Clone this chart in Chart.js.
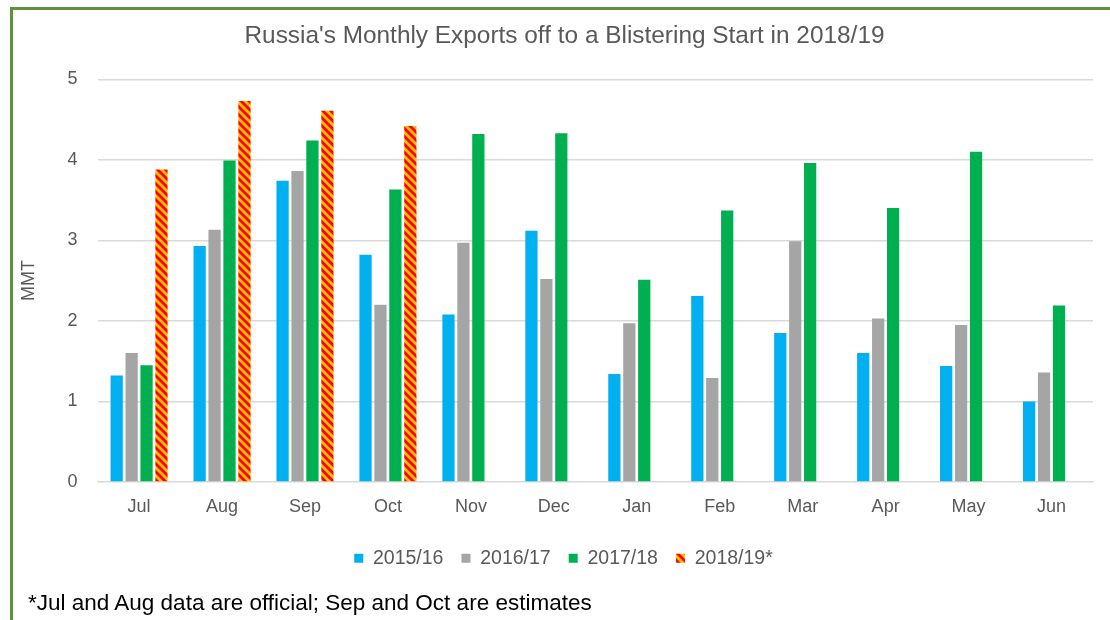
<!DOCTYPE html>
<html>
<head>
<meta charset="utf-8">
<script src="https://cdn.jsdelivr.net/npm/chart.js@4.4.0/dist/chart.umd.min.js"></script>
<style>
  body { margin: 0; background: #fff; }
  #wrap { position: relative; width: 1110px; height: 620px; overflow: hidden; }
  #frame { position: absolute; left: 10px; top: 7px; width: 1110px; height: 640px;
           border-top: 3px solid #5E9236; border-left: 3px solid #5E9236; box-sizing: border-box; }
  #note { position: absolute; left: 28px; top: 590px; font-family: Arial, "Liberation Sans", sans-serif;
          font-size: 22.5px; color: #000; }
  canvas { position: absolute; left: 0; top: 0; }
</style>
</head>
<body>
<div id="wrap">
  <canvas id="myChart" width="1110" height="620"></canvas>
  <div id="frame"></div>
  <div id="note">*Jul and Aug data are official; Sep and Oct are estimates</div>
</div>
<script>
// months of the marketing year
const months = ['Jul', 'Aug', 'Sep', 'Oct', 'Nov', 'Dec', 'Jan', 'Feb', 'Mar', 'Apr', 'May', 'Jun'];
const exports1516 = [1.32, 2.93, 3.74, 2.82, 2.08, 3.12, 1.34, 2.31, 1.85, 1.60, 1.44, 1.00];
const exports1617 = [1.60, 3.13, 3.86, 2.20, 2.97, 2.52, 1.97, 1.29, 2.99, 2.03, 1.95, 1.36];
const exports1718 = [1.45, 3.99, 4.24, 3.63, 4.32, 4.33, 2.51, 3.37, 3.96, 3.40, 4.10, 2.19];
const exports1819 = [3.88, 4.73, 4.61, 4.42, null, null, null, null, null, null, null, null];
const yTicks = [0, 1, 2, 3, 4, 5];

function makeHatch() {
    let c = document.createElement('canvas');
    c.width = 8;
    c.height = 8;
    let g = c.getContext('2d');
    g.fillStyle = '#FF0000';
    g.fillRect(0, 0, 8, 8);
    g.strokeStyle = '#FFC000';
    g.lineWidth = 2.8;
    for (let k = -8; k <= 8; k += 8) {
        g.beginPath();
        g.moveTo(k - 1, -1);
        g.lineTo(k + 9, 9);
        g.stroke();
    }
    return g.createPattern(c, 'repeat');
}

// nudge the legend and title a little to the right, like the original
const boxShift = {
    id: 'boxShift',
    afterLayout(chart) {
        chart.legend.left += 10;
        chart.legend.right += 10;
        chart.titleBlock.left += 11;
        chart.titleBlock.right += 11;
    }
};

const font = "Arial, 'Liberation Sans', sans-serif";
const ctx = document.getElementById('myChart').getContext('2d');
const hatch = makeHatch();

new Chart(ctx, {
    type: 'bar',
    data: {
        labels: months,
        datasets: [{
                label: '2015/16',
                data: exports1516,
                backgroundColor: '#00B0F0'
            }, {
                label: '2016/17',
                data: exports1617,
                backgroundColor: '#A5A5A5'
            }, {
                label: '2017/18',
                data: exports1718,
                backgroundColor: '#00B050'
            }, {
                label: '2018/19*',
                data: exports1819,
                backgroundColor: hatch
            }]
    },
    plugins: [boxShift],
    options: {
        responsive: false,
        animation: false,
        categoryPercentage: 0.72,
        barPercentage: 0.82,
        layout: {
            padding: { left: 14, right: 17, top: 0, bottom: 42 }
        },
        plugins: {
            title: {
                display: true,
                text: "Russia's Monthly Exports off to a Blistering Start in 2018/19",
                color: '#595959',
                font: { family: font, size: 24.4, weight: 'normal' },
                padding: { top: 22, bottom: 28 }
            },
            legend: {
                position: 'bottom',
                labels: {
                    color: '#595959',
                    font: { family: font, size: 19.5 },
                    boxWidth: 9,
                    boxHeight: 9,
                    padding: 18
                }
            },
            tooltip: { enabled: false }
        },
        scales: {
            x: {
                grid: { display: false },
                border: { color: '#D9D9D9', width: 1 },
                afterFit: (axis) => { axis.height += 7; },
                ticks: {
                    color: '#595959',
                    font: { family: font, size: 18 },
                    padding: 6
                }
            },
            y: {
                min: 0,
                max: 5,
                afterBuildTicks: (axis) => { axis.ticks = yTicks.map(v => ({ value: v })); },
                grid: { color: '#D9D9D9', lineWidth: 1.5, drawTicks: false },
                border: { display: false },
                ticks: {
                    color: '#595959',
                    font: { family: font, size: 18 },
                    padding: 20
                },
                title: {
                    display: true,
                    text: 'MMT',
                    color: '#595959',
                    font: { family: font, size: 18 },
                    padding: { bottom: 8 }
                }
            }
        }
    }
});
</script>
</body>
</html>
